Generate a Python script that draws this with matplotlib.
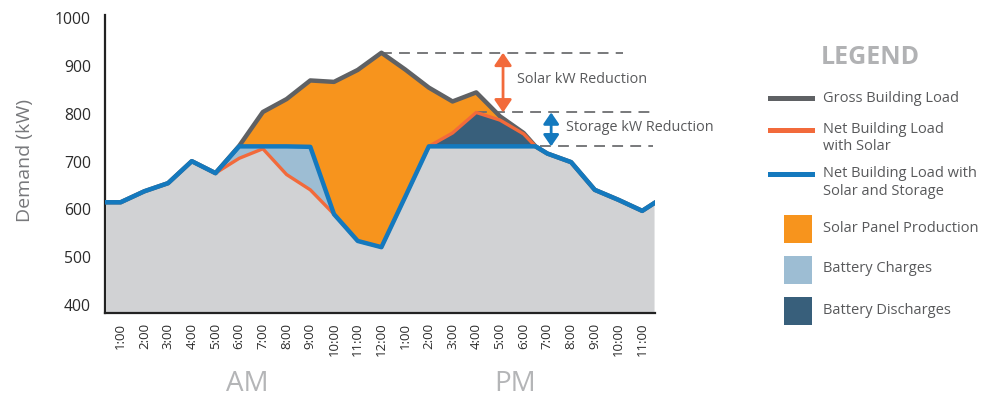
import matplotlib
matplotlib.use('Agg')
import matplotlib.pyplot as plt
import numpy as np
from matplotlib.patches import Rectangle
from matplotlib.lines import Line2D

plt.rcParams['font.family'] = ['Open Sans', 'DejaVu Sans']

# ---------------- data ----------------
hours = [0.38, 1, 2, 3, 4, 5, 6, 7, 8, 9, 10, 11, 12, 13, 14, 15, 16, 17, 18, 18.5,
         19, 20, 21, 22, 23, 23.5]
gross_load = [615, 615, 638, 655, 701, 676, 733, 804, 831, 870, 867, 892, 928, 893, 855,
              826, 845, 795, 760, 732, 717, 699, 641, 620, 597, 613]
net_solar = [615, 615, 638, 655, 701, 676, 707, 727, 673, 641, 590, 534, 521, 626, 732,
             760, 803, 787, 758, 732, 717, 699, 641, 620, 597, 613]
net_storage = [615, 615, 638, 655, 701, 676, 732, 732, 732, 731, 590, 534, 521, 626, 732,
               732, 732, 732, 732, 732, 717, 699, 641, 620, 597, 613]

tick_hours = list(range(1, 24))
tick_labels = ['1:00', '2:00', '3:00', '4:00', '5:00', '6:00', '7:00', '8:00', '9:00',
               '10:00', '11:00', '12:00', '1:00', '2:00', '3:00', '4:00', '5:00', '6:00',
               '7:00', '8:00', '9:00', '10:00', '11:00']
y_ticks = [400, 500, 600, 700, 800, 900, 1000]

legend_lines = ['Gross Building Load', 'Net Building Load\nwith Solar',
                'Net Building Load with\nSolar and Storage']
legend_patches = ['Solar Panel Production', 'Battery Charges', 'Battery Discharges']

# ---------------- colours ----------------
C_BASE = '#d1d2d4'
C_SOLAR_FILL = '#f7941d'
C_GROSS = '#5f6164'
C_NET_SOLAR = '#f26a3b'
C_NET_STORAGE = '#1479be'
C_CHARGE = '#9dbdd3'
C_DISCHARGE = '#385f7b'
C_TEXT = '#58595b'

fig = plt.figure(figsize=(9.82, 4.0), dpi=100)
ax = fig.add_axes([105 / 982, 87 / 400, 550 / 982, 298 / 400])

x = np.array(hours)
g = np.array(gross_load, float)
s = np.array(net_solar, float)
b = np.array(net_storage, float)

ax.fill_between(x, 0, np.minimum(s, b), color=C_BASE, lw=0, zorder=1)
ax.fill_between(x, np.maximum(s, b), g, color=C_SOLAR_FILL, lw=0, zorder=1)
ax.fill_between(x, s, b, where=b >= s, interpolate=True, color=C_CHARGE, lw=0, zorder=1)
ax.fill_between(x, b, s, where=s >= b, interpolate=True, color=C_DISCHARGE, lw=0, zorder=1)

ax.plot(x, g, color=C_GROSS, lw=3.2, zorder=3)
ax.plot(x, s, color=C_NET_SOLAR, lw=2.4, zorder=4)
ax.plot(x, b, color=C_NET_STORAGE, lw=3.2, zorder=5)

# reference dashed lines
peak_gross = g.max()
peak_solar = s.max()
flat_storage = b.max()
dash = dict(color='#6d6e71', lw=1.3, linestyle=(0, (6, 4)), zorder=2, clip_on=False)
ax.plot([x[np.argmax(g)], 22.2], [peak_gross, peak_gross], **dash)
ax.plot([x[np.argmax(s)], 23.45], [peak_solar, peak_solar], **dash)
ax.plot([18.7, 23.45], [flat_storage, flat_storage], **dash)

arrow_style = '<|-|>,head_length=0.38,head_width=0.26'
ax.annotate('', xy=(17.13, peak_gross), xytext=(17.13, peak_solar),
            arrowprops=dict(arrowstyle=arrow_style, color=C_NET_SOLAR, lw=2,
                            shrinkA=0, shrinkB=0, mutation_scale=20), zorder=6)
ax.annotate('', xy=(19.16, peak_solar), xytext=(19.16, flat_storage),
            arrowprops=dict(arrowstyle=arrow_style, color=C_NET_STORAGE, lw=2,
                            shrinkA=0, shrinkB=0, mutation_scale=18), zorder=6)
ax.text(17.72, 873, 'Solar kW Reduction', fontsize=10.4, color=C_TEXT, va='center', ha='left')
ax.text(19.79, 771, 'Storage kW Reduction', fontsize=10.4, color=C_TEXT, va='center',
        ha='left', clip_on=False)

ax.set_xlim(0.34, 23.54)
ax.set_ylim(383.2, 1007)
ax.set_yticks(y_ticks)
ax.set_yticklabels([str(v) for v in y_ticks], fontsize=11.3, color='#2b2b2b')
ax.set_xticks(tick_hours)
ax.set_xticklabels(tick_labels, rotation=90, fontsize=9.5, color='#2b2b2b')
ax.tick_params(axis='y', length=0, pad=10)
ax.tick_params(axis='x', length=0, pad=7)
for sp in ['top', 'right']:
    ax.spines[sp].set_visible(False)
for sp in ['left', 'bottom']:
    ax.spines[sp].set_linewidth(1.6)
    ax.spines[sp].set_color('#222222')
ax.patch.set_alpha(0)

# ---------------- overlay (pixel coordinates) ----------------
lax = fig.add_axes([0, 0, 1, 1])
lax.set_xlim(0, 982)
lax.set_ylim(400, 0)
lax.axis('off')
lax.patch.set_alpha(0)

lax.text(25, 160, 'Demand (kW)', rotation=90, fontsize=14, color='#77787b',
         ha='center', va='center')
lax.text(247, 384, 'AM', fontsize=20, color='#b4b5b7', ha='center', va='center')
lax.text(515, 384, 'PM', fontsize=20, color='#b4b5b7', ha='center', va='center')

lax.text(821, 58, 'LEGEND', fontsize=18, fontweight='bold', color='#b1b2b4',
         ha='left', va='center')
line_colors = [C_GROSS, C_NET_SOLAR, C_NET_STORAGE]
line_y = [98, 130, 174]
text_y = [98, 138, 182.5]
for lbl, col, ly, ty in zip(legend_lines, line_colors, line_y, text_y):
    lax.add_line(Line2D([770, 812], [ly, ly], color=col, lw=3.6))
    lax.text(823, ty, lbl, fontsize=10.5, color=C_TEXT, ha='left', va='center',
             linespacing=1.2)
patch_colors = [C_SOLAR_FILL, C_CHARGE, C_DISCHARGE]
patch_top = [215, 256, 297]
for lbl, col, pt in zip(legend_patches, patch_colors, patch_top):
    lax.add_patch(Rectangle((784, pt), 28, 27.5, color=col, lw=0))
    lax.text(823, pt + 13, lbl, fontsize=10.5, color=C_TEXT, ha='left', va='center')

fig.savefig('out.png', dpi=100)
